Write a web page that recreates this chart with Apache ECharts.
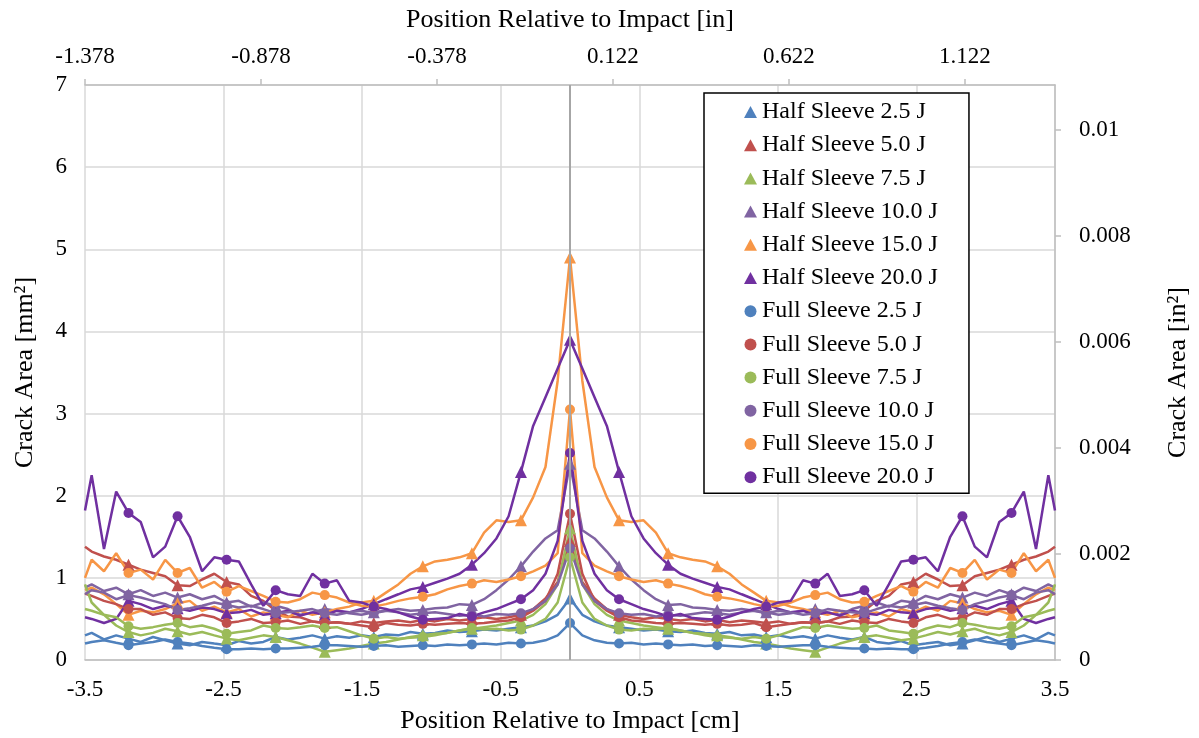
<!DOCTYPE html>
<html>
<head>
<meta charset="utf-8">
<script src="https://cdn.jsdelivr.net/npm/echarts@6/dist/echarts.min.js"></script>
<style>
    * { margin: 0; padding: 0; }
    #main { width: 1199px; height: 738px; background: #fff; }
</style>
</head>
<body>
<div id="main"></div>
<script type="text/javascript">
    // sample positions along the specimen [cm]
    var xs = [-3.5, -3.452, -3.363, -3.275, -3.186, -3.098, -3.009, -2.921, -2.832, -2.744,
              -2.655, -2.567, -2.478, -2.390, -2.301, -2.213, -2.124, -2.036, -1.947, -1.859,
              -1.770, -1.682, -1.593, -1.505, -1.416, -1.328, -1.239, -1.151, -1.062, -0.974,
              -0.885, -0.797, -0.708, -0.620, -0.531, -0.443, -0.354, -0.266, -0.177, -0.089,
              0,
              0.089, 0.177, 0.266, 0.354, 0.443, 0.531, 0.620, 0.708, 0.797, 0.885,
              0.974, 1.062, 1.151, 1.239, 1.328, 1.416, 1.505, 1.593, 1.682, 1.770,
              1.859, 1.947, 2.036, 2.124, 2.213, 2.301, 2.390, 2.478, 2.567, 2.655,
              2.744, 2.832, 2.921, 3.009, 3.098, 3.186, 3.275, 3.363, 3.452, 3.5];

    // tick labels
    var xTicks = [-3.5, -2.5, -1.5, -0.5, 0.5, 1.5, 2.5, 3.5];
    var topTicks = [-1.378, -0.878, -0.378, 0.122, 0.622, 1.122];
    var rightTicks = [0, 0.002, 0.004, 0.006, 0.008, 0.01];

    // crack area [mm2]
    var half25 = [0.30, 0.33, 0.25, 0.30, 0.26, 0.22, 0.28, 0.24, 0.20, 0.18, 0.22, 0.20, 0.18, 0.23, 0.20, 0.22, 0.28, 0.25, 0.27, 0.30, 0.26, 0.29, 0.27, 0.30, 0.28, 0.31, 0.30, 0.34, 0.32, 0.33, 0.36, 0.34, 0.35, 0.37, 0.36, 0.38, 0.40, 0.42, 0.47, 0.55,
                  0.75,
                  0.55, 0.47, 0.42, 0.40, 0.38, 0.36, 0.37, 0.35, 0.34, 0.36, 0.33, 0.32, 0.34, 0.30, 0.31, 0.28, 0.30, 0.27, 0.29, 0.26, 0.30, 0.27, 0.25, 0.28, 0.22, 0.20, 0.23, 0.18, 0.20, 0.22, 0.18, 0.20, 0.24, 0.28, 0.22, 0.26, 0.30, 0.25, 0.33, 0.30];
    var half50 = [1.38, 1.32, 1.26, 1.22, 1.16, 1.10, 1.06, 1.02, 0.91, 0.90, 0.98, 1.05, 0.95, 0.92, 0.78, 0.72, 0.60, 0.53, 0.52, 0.47, 0.45, 0.46, 0.44, 0.47, 0.45, 0.47, 0.48, 0.46, 0.49, 0.47, 0.50, 0.48, 0.50, 0.52, 0.50, 0.52, 0.55, 0.62, 0.75, 0.95,
                  1.45,
                  0.95, 0.75, 0.62, 0.55, 0.52, 0.50, 0.52, 0.50, 0.48, 0.50, 0.47, 0.49, 0.46, 0.48, 0.47, 0.45, 0.47, 0.44, 0.46, 0.45, 0.47, 0.52, 0.53, 0.60, 0.72, 0.78, 0.92, 0.95, 1.05, 0.98, 0.90, 0.91, 1.02, 1.06, 1.10, 1.16, 1.22, 1.26, 1.32, 1.38];
    var half75 = [0.62, 0.60, 0.55, 0.42, 0.34, 0.30, 0.33, 0.38, 0.35, 0.31, 0.34, 0.30, 0.26, 0.24, 0.27, 0.30, 0.28, 0.24, 0.20, 0.15, 0.10, 0.12, 0.14, 0.17, 0.20, 0.22, 0.25, 0.28, 0.30, 0.32, 0.33, 0.36, 0.38, 0.40, 0.42, 0.45, 0.48, 0.55, 0.68, 0.92,
                  1.60,
                  0.92, 0.68, 0.55, 0.48, 0.45, 0.42, 0.40, 0.38, 0.36, 0.33, 0.32, 0.30, 0.28, 0.25, 0.22, 0.20, 0.17, 0.14, 0.12, 0.10, 0.15, 0.20, 0.24, 0.28, 0.30, 0.27, 0.24, 0.26, 0.30, 0.34, 0.31, 0.35, 0.38, 0.33, 0.30, 0.34, 0.42, 0.55, 0.60, 0.62];
    var half100 = [0.88, 0.92, 0.84, 0.88, 0.80, 0.85, 0.78, 0.82, 0.76, 0.80, 0.74, 0.78, 0.70, 0.72, 0.65, 0.70, 0.66, 0.62, 0.55, 0.58, 0.62, 0.60, 0.57, 0.55, 0.58, 0.60, 0.62, 0.60, 0.61, 0.63, 0.64, 0.68, 0.67, 0.74, 0.85, 0.98, 1.14, 1.32, 1.48, 1.58,
                   2.39,
                   1.58, 1.48, 1.32, 1.14, 0.98, 0.85, 0.74, 0.67, 0.68, 0.64, 0.63, 0.61, 0.60, 0.62, 0.60, 0.58, 0.55, 0.57, 0.60, 0.62, 0.58, 0.55, 0.62, 0.66, 0.70, 0.65, 0.72, 0.70, 0.78, 0.74, 0.80, 0.76, 0.82, 0.78, 0.85, 0.80, 0.88, 0.84, 0.92, 0.88];
    var half150 = [0.85, 0.88, 0.80, 0.68, 0.55, 0.60, 0.58, 0.62, 0.69, 0.72, 0.60, 0.65, 0.58, 0.62, 0.53, 0.58, 0.55, 0.52, 0.60, 0.55, 0.58, 0.62, 0.65, 0.70, 0.72, 0.82, 0.92, 1.05, 1.14, 1.20, 1.22, 1.25, 1.30, 1.55, 1.70, 1.68, 1.70, 1.98, 2.35, 3.40,
                   4.90,
                   3.40, 2.35, 1.98, 1.70, 1.68, 1.70, 1.55, 1.30, 1.25, 1.22, 1.20, 1.14, 1.05, 0.92, 0.82, 0.72, 0.70, 0.65, 0.62, 0.58, 0.55, 0.60, 0.52, 0.55, 0.58, 0.53, 0.62, 0.58, 0.65, 0.60, 0.72, 0.69, 0.62, 0.58, 0.60, 0.55, 0.68, 0.80, 0.88, 0.85];
    var half200 = [0.52, 0.50, 0.45, 0.50, 0.72, 0.68, 0.62, 0.66, 0.63, 0.60, 0.64, 0.62, 0.57, 0.58, 0.61, 0.55, 0.57, 0.60, 0.54, 0.58, 0.55, 0.60, 0.58, 0.62, 0.68, 0.74, 0.80, 0.86, 0.89, 0.94, 0.99, 1.05, 1.16, 1.30, 1.48, 1.75, 2.29, 2.85, 3.20, 3.55,
                   3.90,
                   3.55, 3.20, 2.85, 2.29, 1.75, 1.48, 1.30, 1.16, 1.05, 0.99, 0.94, 0.89, 0.86, 0.80, 0.74, 0.68, 0.62, 0.58, 0.60, 0.55, 0.58, 0.54, 0.60, 0.57, 0.55, 0.61, 0.58, 0.57, 0.62, 0.64, 0.60, 0.63, 0.66, 0.62, 0.68, 0.72, 0.50, 0.45, 0.50, 0.52];
    var full25 = [0.20, 0.22, 0.24, 0.21, 0.18, 0.20, 0.22, 0.25, 0.22, 0.20, 0.17, 0.15, 0.13, 0.13, 0.14, 0.13, 0.14, 0.14, 0.15, 0.16, 0.18, 0.18, 0.17, 0.16, 0.17, 0.18, 0.16, 0.17, 0.18, 0.17, 0.19, 0.18, 0.19, 0.20, 0.19, 0.21, 0.20, 0.21, 0.24, 0.30,
                  0.45,
                  0.30, 0.24, 0.21, 0.20, 0.21, 0.19, 0.20, 0.19, 0.18, 0.19, 0.17, 0.18, 0.17, 0.16, 0.18, 0.17, 0.16, 0.17, 0.18, 0.18, 0.16, 0.15, 0.14, 0.14, 0.13, 0.14, 0.13, 0.13, 0.15, 0.17, 0.20, 0.22, 0.25, 0.22, 0.20, 0.18, 0.21, 0.24, 0.22, 0.20];
    var full50 = [0.81, 0.78, 0.72, 0.68, 0.62, 0.62, 0.55, 0.58, 0.51, 0.50, 0.55, 0.52, 0.45, 0.47, 0.50, 0.45, 0.46, 0.48, 0.44, 0.47, 0.45, 0.46, 0.44, 0.42, 0.40, 0.45, 0.43, 0.42, 0.44, 0.43, 0.44, 0.45, 0.44, 0.45, 0.47, 0.48, 0.52, 0.60, 0.72, 1.05,
                  1.78,
                  1.05, 0.72, 0.60, 0.52, 0.48, 0.47, 0.45, 0.44, 0.45, 0.44, 0.43, 0.44, 0.42, 0.43, 0.45, 0.40, 0.42, 0.44, 0.46, 0.45, 0.47, 0.44, 0.48, 0.46, 0.45, 0.50, 0.47, 0.45, 0.52, 0.55, 0.50, 0.51, 0.58, 0.55, 0.62, 0.62, 0.68, 0.72, 0.78, 0.81];
    var full75 = [0.92, 0.70, 0.55, 0.52, 0.41, 0.38, 0.40, 0.43, 0.45, 0.40, 0.42, 0.38, 0.32, 0.34, 0.36, 0.42, 0.39, 0.38, 0.40, 0.42, 0.39, 0.40, 0.35, 0.30, 0.26, 0.28, 0.26, 0.27, 0.28, 0.30, 0.33, 0.36, 0.39, 0.37, 0.38, 0.36, 0.37, 0.42, 0.50, 0.70,
                  1.25,
                  0.70, 0.50, 0.42, 0.37, 0.36, 0.38, 0.37, 0.39, 0.36, 0.33, 0.30, 0.28, 0.27, 0.26, 0.28, 0.26, 0.30, 0.35, 0.40, 0.39, 0.42, 0.40, 0.38, 0.39, 0.42, 0.36, 0.34, 0.32, 0.38, 0.42, 0.40, 0.45, 0.43, 0.40, 0.38, 0.41, 0.52, 0.55, 0.70, 0.92];
    var full100 = [0.80, 0.85, 0.82, 0.74, 0.79, 0.76, 0.72, 0.68, 0.61, 0.63, 0.66, 0.70, 0.67, 0.64, 0.66, 0.62, 0.57, 0.58, 0.60, 0.62, 0.57, 0.55, 0.58, 0.60, 0.57, 0.60, 0.58, 0.55, 0.57, 0.58, 0.56, 0.54, 0.55, 0.53, 0.56, 0.55, 0.57, 0.62, 0.72, 0.92,
                   1.36,
                   0.92, 0.72, 0.62, 0.57, 0.55, 0.56, 0.53, 0.55, 0.54, 0.56, 0.58, 0.57, 0.55, 0.58, 0.60, 0.57, 0.60, 0.58, 0.55, 0.57, 0.62, 0.60, 0.58, 0.57, 0.62, 0.66, 0.64, 0.67, 0.70, 0.66, 0.63, 0.61, 0.68, 0.72, 0.76, 0.79, 0.74, 0.82, 0.85, 0.80];
    var full150 = [1.00, 1.22, 1.08, 1.30, 1.06, 1.10, 0.98, 1.22, 1.06, 1.12, 0.88, 0.95, 0.83, 0.90, 0.84, 0.78, 0.71, 0.70, 0.74, 0.82, 0.79, 0.76, 0.70, 0.66, 0.65, 0.68, 0.72, 0.75, 0.77, 0.80, 0.86, 0.90, 0.93, 0.97, 0.95, 0.98, 1.02, 1.08, 1.15, 1.30,
                   3.05,
                   1.30, 1.15, 1.08, 1.02, 0.98, 0.95, 0.97, 0.93, 0.90, 0.86, 0.80, 0.77, 0.75, 0.72, 0.68, 0.65, 0.66, 0.70, 0.76, 0.79, 0.82, 0.74, 0.70, 0.71, 0.78, 0.84, 0.90, 0.83, 0.95, 0.88, 1.12, 1.06, 1.22, 0.98, 1.10, 1.06, 1.30, 1.08, 1.22, 1.00];
    var full200 = [1.82, 2.25, 1.35, 2.05, 1.79, 1.68, 1.25, 1.38, 1.75, 1.50, 1.08, 1.25, 1.22, 1.20, 0.92, 0.66, 0.85, 0.80, 0.78, 1.05, 0.93, 0.97, 0.72, 0.70, 0.65, 0.62, 0.58, 0.53, 0.49, 0.50, 0.51, 0.56, 0.53, 0.58, 0.62, 0.68, 0.74, 0.85, 1.05, 1.45,
                   2.52,
                   1.45, 1.05, 0.85, 0.74, 0.68, 0.62, 0.58, 0.53, 0.56, 0.51, 0.50, 0.49, 0.53, 0.58, 0.62, 0.65, 0.70, 0.72, 0.97, 0.93, 1.05, 0.78, 0.80, 0.85, 0.66, 0.92, 1.20, 1.22, 1.25, 1.08, 1.50, 1.75, 1.38, 1.25, 1.68, 1.79, 2.05, 1.35, 2.25, 1.82];

    var names = ['Half Sleeve 2.5 J', 'Half Sleeve 5.0 J', 'Half Sleeve 7.5 J', 'Half Sleeve 10.0 J',
                 'Half Sleeve 15.0 J', 'Half Sleeve 20.0 J', 'Full Sleeve 2.5 J', 'Full Sleeve 5.0 J',
                 'Full Sleeve 7.5 J', 'Full Sleeve 10.0 J', 'Full Sleeve 15.0 J', 'Full Sleeve 20.0 J'];
    var values = [half25, half50, half75, half100, half150, half200,
                  full25, full50, full75, full100, full150, full200];
    var colors = ['#4F81BD', '#C0504D', '#9BBB59', '#8064A2', '#F79646', '#7030A0'];

    var FONT = '"Liberation Serif", "Times New Roman", serif';
    var MARK_EVERY = 4;   // a marker on every 4th sample

    var dom = document.getElementById('main');
    var myChart = echarts.init(dom);

    function makeSeries(k) {
        var sym = k < 6 ? 'triangle' : 'circle';
        var color = colors[k % 6];
        var vals = values[k];
        var data = [];
        for (var i = 0; i < xs.length; i++) {
            var marked = i % MARK_EVERY === 0 && i > 0 && i < xs.length - 1;
            data.push({ value: [xs[i], vals[i]], symbol: marked ? sym : 'none' });
        }
        var s = {
            name: names[k],
            type: 'line',
            xAxisIndex: 0,
            yAxisIndex: 0,
            data: data,
            symbol: sym,
            symbolSize: sym === 'triangle' ? 12 : 10,
            showAllSymbol: true,
            lineStyle: { color: color, width: 2.5 },
            itemStyle: { color: color },
            emphasis: { disabled: true },
            animation: false
        };
        if (k === 0) {
            // the vertical axis line at x = 0
            s.markLine = {
                silent: true,
                symbol: 'none',
                label: { show: false },
                lineStyle: { color: '#a6a6a6', width: 2, type: 'solid' },
                data: [{ xAxis: 0 }],
                animation: false
            };
        }
        return s;
    }

    var series = [];
    for (var k = 0; k < names.length; k++) series.push(makeSeries(k));

    var option = {
        animation: false,
        backgroundColor: '#fff',
        textStyle: { fontFamily: FONT, color: '#000' },
        grid: { left: 85, right: 144, top: 85, bottom: 78, containLabel: false, outerBoundsMode: 'none' },
        legend: {
            orient: 'vertical',
            left: 704,
            top: 93,
            padding: [7, 31, 4, 40],
            itemGap: 9.2,
            itemWidth: 13,
            itemHeight: 12,
            backgroundColor: '#fff',
            borderColor: '#000',
            borderWidth: 1.5,
            textStyle: { fontFamily: FONT, fontSize: 24, color: '#000', lineHeight: 24 },
            data: names.map(function (n, i) {
                return { name: n, icon: i < 6 ? 'triangle' : 'circle' };
            })
        },
        xAxis: [{
            type: 'value',
            position: 'bottom',
            min: -3.5,
            max: 3.5,
            name: 'Position Relative to Impact [cm]',
            nameLocation: 'middle',
            nameGap: 48,
            nameTextStyle: { fontFamily: FONT, fontSize: 26, color: '#000' },
            axisLine: { show: true, onZero: false, lineStyle: { color: '#bfbfbf', width: 1.5 } },
            axisTick: { show: false, customValues: xTicks },
            axisLabel: {
                customValues: xTicks,
                fontFamily: FONT, fontSize: 23, color: '#000', margin: 18,
                formatter: function (v) { return String(v); }
            },
            splitLine: { show: true, lineStyle: { color: '#d9d9d9', width: 1.5 } }
        }, {
            type: 'value',
            position: 'top',
            min: -1.378,
            max: 1.378,
            name: 'Position Relative to Impact [in]',
            nameLocation: 'middle',
            nameGap: 52,
            nameTextStyle: { fontFamily: FONT, fontSize: 26, color: '#000' },
            axisLine: { show: true, onZero: false, lineStyle: { color: '#bfbfbf', width: 1.5 } },
            axisTick: { show: true, length: 6, customValues: topTicks, lineStyle: { color: '#bfbfbf', width: 1.5 } },
            axisLabel: {
                customValues: topTicks,
                fontFamily: FONT, fontSize: 23, color: '#000', margin: 17,
                formatter: function (v) { return v.toFixed(3); }
            },
            splitLine: { show: false }
        }],
        yAxis: [{
            type: 'value',
            position: 'left',
            min: 0,
            max: 7,
            interval: 1,
            name: 'Crack Area [mm²]',
            nameLocation: 'middle',
            nameRotate: 90,
            nameGap: 47,
            nameTextStyle: { fontFamily: FONT, fontSize: 26, color: '#000' },
            axisLine: { show: false, onZero: false },
            axisTick: { show: false },
            axisLabel: { fontFamily: FONT, fontSize: 23, color: '#000', margin: 18 },
            splitLine: { show: true, lineStyle: { color: '#d9d9d9', width: 1.5 } }
        }, {
            type: 'value',
            position: 'right',
            min: 0,
            max: 7 / 645.16,
            name: 'Crack Area [in²]',
            nameLocation: 'middle',
            nameRotate: 90,
            nameGap: 110,
            nameTextStyle: { fontFamily: FONT, fontSize: 26, color: '#000' },
            axisLine: { show: true, onZero: false, lineStyle: { color: '#bfbfbf', width: 1.5 } },
            axisTick: { show: true, length: 6, customValues: rightTicks, lineStyle: { color: '#bfbfbf', width: 1.5 } },
            axisLabel: {
                customValues: rightTicks,
                fontFamily: FONT, fontSize: 23, color: '#000', margin: 24,
                formatter: function (v) { return String(+v.toFixed(3)); }
            },
            splitLine: { show: false }
        }],
        series: series
    };

    myChart.setOption(option);
</script>
</body>
</html>
